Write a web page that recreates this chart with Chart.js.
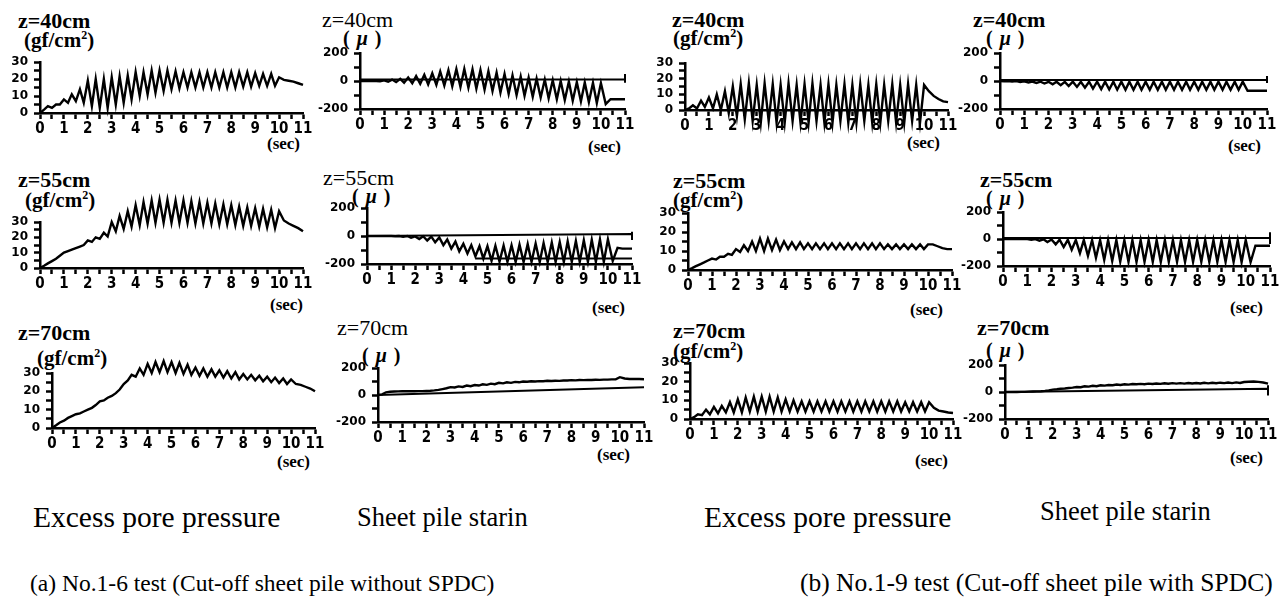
<!DOCTYPE html>
<html>
<head>
<meta charset="utf-8">
<script src="https://cdn.jsdelivr.net/npm/chart.js@4.4.1/dist/chart.umd.min.js"></script>
<style>
  body { margin: 0; width: 1279px; height: 606px; background: #fff; position: relative; overflow: hidden;
         font-family: 'Liberation Serif', 'Times New Roman', serif; color: #000; }
  canvas { position: absolute; }
  .t { position: absolute; white-space: nowrap; line-height: 1; }
  .z { font-size: 22px; font-weight: bold; }
  .zr { font-weight: normal; }
  .u { font-size: 21px; font-weight: bold; }
  .u sup { font-size: 12px; vertical-align: 8px; line-height: 0; }
  .m { font-size: 20px; font-weight: bold; word-spacing: 2px; }
  .sec { font-size: 17px; font-weight: bold; }
  .lab1 { font-size: 29.5px; }
  .lab2 { font-size: 26.5px; }
  .capa { font-size: 23.5px; }
  .capb { font-size: 25.5px; }
</style>
</head>
<body>

<!-- títulos dos painéis -->
<div class="t z" style="left:18px;top:10px">z=40cm</div>
<div class="t u" style="left:24px;top:30px">(gf/cm<sup>2</sup>)</div>
<div class="t z zr" style="left:322px;top:9px">z=40cm</div>
<div class="t m" style="left:343px;top:28px">( <i>μ</i> )</div>
<div class="t z" style="left:672px;top:9px">z=40cm</div>
<div class="t u" style="left:673px;top:28px">(gf/cm<sup>2</sup>)</div>
<div class="t z" style="left:973px;top:9px">z=40cm</div>
<div class="t m" style="left:986px;top:28px">( <i>μ</i> )</div>

<div class="t z" style="left:18px;top:169px">z=55cm</div>
<div class="t u" style="left:25px;top:190px">(gf/cm<sup>2</sup>)</div>
<div class="t z zr" style="left:323px;top:167px">z=55cm</div>
<div class="t m" style="left:352px;top:186px">( <i>μ</i> )</div>
<div class="t z" style="left:673px;top:170px">z=55cm</div>
<div class="t u" style="left:673px;top:190px">(gf/cm<sup>2</sup>)</div>
<div class="t z" style="left:980px;top:169px">z=55cm</div>
<div class="t m" style="left:986px;top:188px">( <i>μ</i> )</div>

<div class="t z" style="left:18px;top:322px">z=70cm</div>
<div class="t u" style="left:37px;top:348px">(gf/cm<sup>2</sup>)</div>
<div class="t z zr" style="left:337px;top:317px">z=70cm</div>
<div class="t m" style="left:362px;top:345px">( <i>μ</i> )</div>
<div class="t z" style="left:673px;top:320px">z=70cm</div>
<div class="t u" style="left:673px;top:341px">(gf/cm<sup>2</sup>)</div>
<div class="t z" style="left:977px;top:317px">z=70cm</div>
<div class="t m" style="left:986px;top:340px">( <i>μ</i> )</div>

<!-- (sec) -->
<div class="t sec" style="left:267px;top:135px">(sec)</div>
<div class="t sec" style="left:588px;top:138px">(sec)</div>
<div class="t sec" style="left:907px;top:134px">(sec)</div>
<div class="t sec" style="left:1228px;top:137px">(sec)</div>
<div class="t sec" style="left:270px;top:296px">(sec)</div>
<div class="t sec" style="left:592px;top:299px">(sec)</div>
<div class="t sec" style="left:910px;top:301px">(sec)</div>
<div class="t sec" style="left:1230px;top:299px">(sec)</div>
<div class="t sec" style="left:277px;top:453px">(sec)</div>
<div class="t sec" style="left:597px;top:446px">(sec)</div>
<div class="t sec" style="left:915px;top:452px">(sec)</div>
<div class="t sec" style="left:1230px;top:449px">(sec)</div>

<!-- legendas de baixo -->
<div class="t lab1" style="left:33px;top:503px">Excess pore pressure</div>
<div class="t lab2" style="left:357px;top:504px">Sheet pile starin</div>
<div class="t lab1" style="left:704px;top:503px">Excess pore pressure</div>
<div class="t lab2" style="left:1040px;top:498px">Sheet pile starin</div>
<div class="t capa" style="left:30px;top:572px">(a) No.1-6 test (Cut-off sheet pile without SPDC)</div>
<div class="t capb" style="left:800px;top:570px">(b) No.1-9 test (Cut-off sheet pile with SPDC)</div>

<canvas id="c1"></canvas><canvas id="c2"></canvas><canvas id="c3"></canvas><canvas id="c4"></canvas>
<canvas id="c5"></canvas><canvas id="c6"></canvas><canvas id="c7"></canvas><canvas id="c8"></canvas>
<canvas id="c9"></canvas><canvas id="c10"></canvas><canvas id="c11"></canvas><canvas id="c12"></canvas>

<script>
// tempos (s): picos, vales (3 ciclos por segundo) e cauda depois da excitação
const tPk = [0,0.33,0.67,1,1.33,1.67,2,2.33,2.67,3,3.33,3.67,4,4.33,4.67,5,5.33,5.67,6,6.33,6.67,7,7.33,7.67,8,8.33,8.67,9,9.33,9.67,10];
const tTr = [0.17,0.5,0.83,1.17,1.5,1.83,2.17,2.5,2.83,3.17,3.5,3.83,4.17,4.5,4.83,5.17,5.5,5.83,6.17,6.5,6.83,7.17,7.5,7.83,8.17,8.5,8.83,9.17,9.5,9.83];
const tTail = [10.2,10.4,10.6,10.8,11];

// (a) No.1-6, z=40cm
const a40pPk = [0,4,5, 8,11,14, 19,20,20, 21,21.5,22, 24,24,25, 25,25,24.5, 24,24,24, 24,24,24, 24,24,24, 23.5,23,23, 21];
const a40pTr = [2,3,5, 6,7,6, 4,3,3, 5,6,8, 10,11,12, 13,14,14.5, 15,15,15, 15,15,15, 15,15.5,15.5, 16,16,16];
const a40pTail = [19.5,19,18.5,17.5,16.5];
const a40sPk = [0,0,0, 5,10,15, 25,35,45, 55,68,78, 85,86,84, 78,70,60, 50,40,32, 24,16,10, 5,0,-4, -8,-11,-13, -15];
const a40sTr = [0,-1,-2, -5,-8,-12, -16,-20,-24, -28,-33,-38, -43,-48,-55, -62,-72,-82, -92,-100,-106, -112,-118,-124, -130,-136,-141, -146,-151,-157];
const a40sTail = [-165,-130,-130,-130,-130];
const a40sBase = [[0,10],[11,10],[11,50],[11,-12]];

// (b) No.1-9, z=40cm
const b40pPk = [0,3,6, 8,10,12, 15,16.5,17, 16,17,16.5, 16,17,16, 16.5,17,16, 16.5,16,16.5, 16,16.5,16, 16.5,16,16.5, 16,16.5,16, 16];
const b40pTr = [1,1,2, 1,0,-2, -4,-6,-7, -8,-7,-8, -8,-7,-8, -8,-7,-8, -8,-7,-8, -8,-7,-8, -8,-7,-8, -8,-7,-8];
const b40pTail = [12,9,7,5.5,5];
const b40sPk = [0,0,-1, -3,-4,-5, -6,-6,-6, -5,-5,-5, -5,-5,-5, -5,-5,-5, -5,-5,-5, -5,-5,-5, -5,-5,-5, -5,-5,-5, -5];
const b40sTr = [-2,-4,-7, -10,-14,-18, -24,-30,-36, -42,-48,-54, -58,-61,-62, -63,-63,-63, -63,-63,-63, -63,-63,-63, -63,-63,-63, -63,-63,-63];
const b40sTail = [-70,-70,-70,-70,-70];
const b40sBase = [[0,7],[11,7],[11,35],[11,-15]];

// (a) z=55cm
const a55pPk = [0,3,6, 10,12,14, 18,20,23, 30,34,37, 41,43,44, 44.5,44.5,44, 44,43.5,43, 42.5,42,41.5, 41,40,39.5, 39,38.5,38, 37];
const a55pTr = [1.5,4.5,8, 11,13,15, 17,19,20.5, 24,25.5,27, 28,29,29.5, 29.5,29.5,29.5, 29.5,29,29, 29,28.5,28.5, 28,27.5,27.5, 27,26.5,26];
const a55pTail = [31,29,27.5,26,24];
const a55sPk = [0,0,0, 0,0,0, -3,-2,-4, -10,-25,-40, -55,-65,-72, -72,-70,-68, -66,-62,-58, -54,-50,-46, -42,-38,-35, -30,-27,-24, -24];
const a55sTr = [0,0,0, -2,-6,-12, -22,-32,-45, -65,-90,-110, -125,-145,-162, -178,-183,-185, -185,-185,-185, -185,-185,-185, -185,-185,-185, -185,-185,-185];
const a55sTail = [-178,-85,-90,-90,-90];
const a55sBase = [[0,0],[11,14],[11,30],[11,-28]];
const a55sLow = [[4.5,-160],[11,-160]];

// (b) z=55cm
const b55pPk = [0,2,4, 6,7,8.5, 11,13,15, 16.5,16.5,16, 15,14.5,14.5, 14,14,14, 14,14,14, 14,14,14, 14,13.5,13.5, 13.5,13.5,13.5, 13.5];
const b55pTr = [1,3,5, 5.5,7,8, 9.5,10,10, 10,10.5,10.5, 11,11,11, 11,11,11, 11,11,11, 11,11,11, 11,11,11, 11,11,11];
const b55pTail = [13.5,12.5,11.5,11,11];
const b55sPk = [0,0,0, 0,-1,-2, -4,-5,-6, -8,-8,-8, -8,-8,-8, -8,-8,-8, -8,-8,-8, -8,-8,-8, -8,-8,-8, -8,-8,-8, -8];
const b55sTr = [0,0,0, -5,-12,-22, -40,-60,-80, -105,-125,-140, -155,-163,-168, -170,-170,-170, -170,-170,-170, -170,-170,-170, -170,-170,-170, -170,-170,-172];
const b55sTail = [-172,-50,-50,-50,-50];
const b55sBase = [[0,7],[11,7],[11,50],[11,-37]];

// (a) z=70cm
const a70pPk = [0,3,5.5, 7.5,9,11, 14.5,16.5,19, 24,29,32.5, 35,36,36.5, 36,35.5,34.5, 33,32.5,32, 31.5,31,30.5, 29.5,29,28.5, 28,27.5,27, 26.5];
const a70pTr = [1.5,4,6.5, 8,10,12.5, 15,17.5,21, 26,28,29, 30,30.5,30.5, 30,29.5,29, 28.5,28,28, 27.5,27,26.5, 26.5,26,25.5, 25,24.5,24];
const a70pTail = [24,23.5,22.5,21.5,20];
const a70sPk = [0,20,26, 28,28,29, 30,34,44, 58,64,70, 74,79,84, 90,94,97, 100,102,103, 105,106,107, 110,111,112, 113,114,116, 132];
const a70sTr = [5,24,27, 28,28,29, 31,38,50, 56,60,65, 70,75,80, 86,90,94, 98,100,102, 104,105,107, 108,110,111, 112,114,116];
const a70sTail = [122,119,118,118,117];
const a70sLow = [[0,0],[11,57]];

// (b) z=70cm
const b70pPk = [0,2.5,5, 6.5,7,9, 10.5,11.5,12, 12,12,11.5, 10.5,10,9.5, 9.5,9.5,9.5, 9.5,9.5,9.5, 9.5,9.5,9.5, 9.5,9.5,9.5, 9,9,9, 9];
const b70pTr = [1,2,2.5, 3,3.5,3.5, 3.5,4,4, 4,4,4, 4,4,4, 4,4,4, 4,4,4, 4,4,4, 4,4,4, 4,4,4];
const b70pTail = [6,4.5,4,3.5,3.2];
const b70sPk = [0,0,1, 3,5,8, 18,24,30, 37,42,46, 50,52,55, 57,59,60, 62,63,65, 66,66,67, 67,68,68, 69,70,71, 74];
const b70sTr = [0,0,1, 4,6,12, 20,26,32, 35,40,43, 47,50,52, 55,57,58, 59,60,61, 62,62,63, 63,64,65, 66,66,67];
const b70sTail = [76,78,75,70,62];
const b70sLow = [[0,0],[11,24],[11,50],[11,-25]];

const xTicks = [0,1,2,3,4,5,6,7,8,9,10,11];

// monta a série: pico, vale, pico ... e depois a cauda
function trace(pk, tr, tail) {
    const pts = [];
    for (let i = 0; i < tPk.length; i++) {
        pts.push({ x: tPk[i], y: pk[i] });
        if (i < tTr.length) pts.push({ x: tTr[i], y: tr[i] });
    }
    tail.forEach((v, i) => pts.push({ x: tTail[i], y: v }));
    return pts;
}
const pairs = arr => arr.map(([x, y]) => ({ x, y }));

const YW = 44, PT = 30, PR = 14, XH = 30;
const narrow = "'Liberation Sans Narrow','DejaVu Sans Condensed',sans-serif";

const panels = [
    { id: 'c1',  area: [40, 303, 62, 113],   kind: 'pore',   sets: [trace(a40pPk, a40pTr, a40pTail)] },
    { id: 'c2',  area: [360, 625, 53, 109],  kind: 'strain', sets: [trace(a40sPk, a40sTr, a40sTail), pairs(a40sBase)] },
    { id: 'c3',  area: [685, 948, 63, 110],  kind: 'pore',   sets: [trace(b40pPk, b40pTr, b40pTail)] },
    { id: 'c4',  area: [1000, 1267, 53, 109], kind: 'strain', sets: [trace(b40sPk, b40sTr, b40sTail), pairs(b40sBase)] },
    { id: 'c5',  area: [40, 303, 222, 268],  kind: 'pore',   sets: [trace(a55pPk, a55pTr, a55pTail)] },
    { id: 'c6',  area: [367, 632, 208, 264], kind: 'strain', sets: [trace(a55sPk, a55sTr, a55sTail), pairs(a55sBase), pairs(a55sLow)] },
    { id: 'c7',  area: [688, 952, 213, 270], kind: 'pore',   sets: [trace(b55pPk, b55pTr, b55pTail)] },
    { id: 'c8',  area: [1003, 1270, 212, 266], kind: 'strain', sets: [trace(b55sPk, b55sTr, b55sTail), pairs(b55sBase)] },
    { id: 'c9',  area: [52, 315, 373, 428],  kind: 'pore',   sets: [trace(a70pPk, a70pTr, a70pTail)] },
    { id: 'c10', area: [378, 644, 368, 422], kind: 'strain', sets: [trace(a70sPk, a70sTr, a70sTail), pairs(a70sLow)] },
    { id: 'c11', area: [690, 953, 363, 419], kind: 'pore',   sets: [trace(b70pPk, b70pTr, b70pTail)] },
    { id: 'c12', area: [1005, 1268, 365, 419], kind: 'strain', sets: [trace(b70sPk, b70sTr, b70sTail), pairs(b70sLow)] }
];

panels.forEach(p => {
    const [l, r, t, b] = p.area;
    const cv = document.getElementById(p.id);
    cv.width = r - l + YW + PR;
    cv.height = b - t + PT + XH;
    cv.style.left = (l - YW) + 'px';
    cv.style.top = (t - PT) + 'px';

    const pore = p.kind === 'pore';
    const major = pore ? 10 : 200;

    new Chart(cv, {
        type: 'line',
        data: {
            datasets: p.sets.map((pts, k) => ({
                data: pts,
                borderColor: '#000',
                borderWidth: k === 0 ? 2.4 : 2,
                pointRadius: 0,
                tension: 0,
                clip: false
            }))
        },
        options: {
            responsive: false,
            animation: false,
            events: [],
            layout: { padding: { top: PT, right: PR, left: 0, bottom: 0 } },
            plugins: { legend: { display: false }, tooltip: { enabled: false } },
            scales: {
                x: {
                    type: 'linear',
                    min: xTicks[0],
                    max: xTicks[xTicks.length - 1],
                    border: { display: true, color: '#000', width: 2.5 },
                    grid: { display: true, drawOnChartArea: false, drawTicks: true, color: '#000', tickColor: '#000', tickWidth: 2.5, tickLength: 6 },
                    ticks: {
                        stepSize: 0.5, autoSkip: false, maxRotation: 0, padding: 1, color: '#000',
                        font: { family: narrow, size: 15, weight: 'bold' },
                        callback: v => xTicks.includes(v) ? v : ''
                    },
                    afterFit: s => { s.height = XH; }
                },
                y: {
                    min: pore ? 0 : -200,
                    max: pore ? 30 : 200,
                    border: { display: true, color: '#000', width: 2.5 },
                    grid: { display: true, drawOnChartArea: false, drawTicks: true, color: '#000', tickColor: '#000', tickWidth: 2.5, tickLength: 6 },
                    ticks: {
                        stepSize: pore ? 5 : 100, autoSkip: false, padding: 6, color: '#000',
                        font: { family: "'DejaVu Sans',sans-serif", size: 12, weight: 'bold' },
                        callback: v => (v % major === 0 ? v : '')
                    },
                    afterFit: s => { s.width = YW; }
                }
            }
        }
    });
});
</script>
</body>
</html>
